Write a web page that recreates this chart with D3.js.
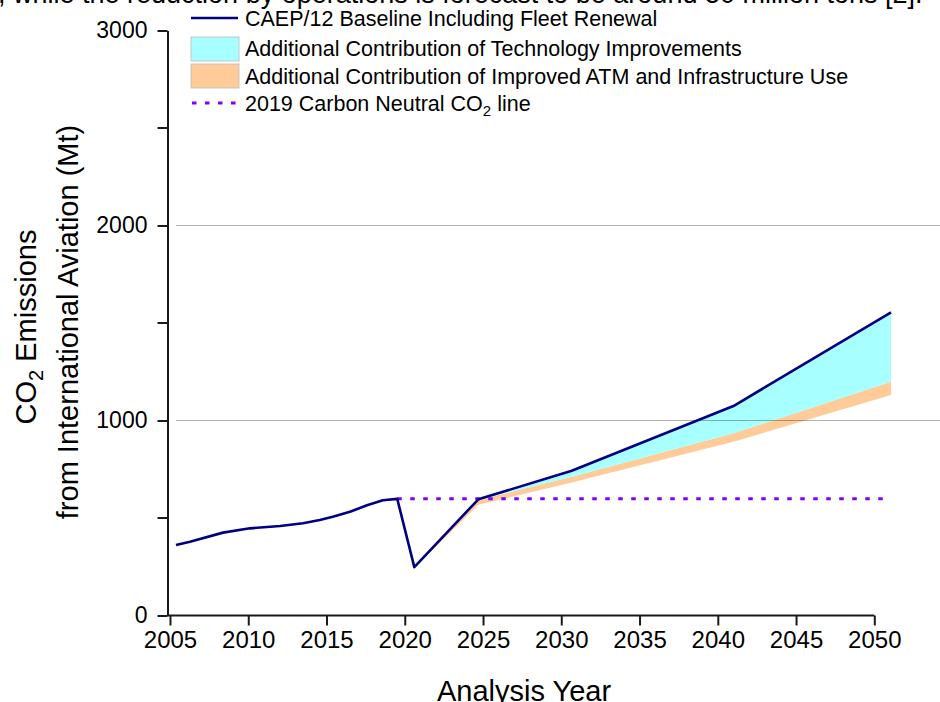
<!DOCTYPE html>
<html>
<head>
<meta charset="utf-8">
<script src="https://cdn.jsdelivr.net/npm/d3@7"></script>
<style>
  html, body { margin: 0; padding: 0; background: #fff; }
  svg { display: block; font-family: "Liberation Sans", Arial, sans-serif; }
</style>
</head>
<body>
<svg id="chart" width="940" height="702"></svg>
<script>
// historical baseline (plotted at mid-year positions as in the source figure)
const histYears  = [2005.38, 2006.28, 2008.39, 2010.11, 2012.03, 2013.5, 2014.57, 2015.4, 2016.5, 2017.59, 2018.6, 2019.52, 2020.61];
const histValues = [361, 378, 425, 447, 459, 473, 490, 507, 532, 565, 591, 598, 248];

// forecast period
const fcYears     = [2020.61, 2024.7, 2030.67, 2041.0, 2051.07];
const fcBaseline  = [248, 596, 742, 1074, 1555];
const fcTech      = [248, 592, 712, 934, 1199];
const fcAtm       = [244, 568, 682, 891, 1131];

// 2019 carbon neutral line
const neutralYears  = [2019.52, 2050.75];
const neutralValues = [599, 599];

const xTicks = [2005, 2010, 2015, 2020, 2025, 2030, 2035, 2040, 2045, 2050];
const yMajor = [0, 1000, 2000, 3000];
const yMinor = [500, 1500, 2500];
const gridValues = [1000, 2000];

const legendItems = [
    { type: 'line', label: 'CAEP/12 Baseline Including Fleet Renewal' },
    { type: 'tech', label: 'Additional Contribution of Technology Improvements' },
    { type: 'atm',  label: 'Additional Contribution of Improved ATM and Infrastructure Use' },
    { type: 'dash', label: '2019 Carbon Neutral CO', sub: '2', tail: ' line' }
];

const colors = {
    line: '#000080',
    tech: '#a8ffff',
    atm: '#ffcb98',
    dash: '#8000ff'
};

const svg = d3.select('#chart');

const x = d3.scaleLinear().domain([2005, 2050]).range([170, 874.3]);
const y = d3.scaleLinear().domain([0, 3000]).range([615.5, 30.5]);

// page text above the figure (cut off by the crop)
svg.append('text')
    .attr('x', -2)
    .attr('y', 3)
    .attr('font-size', 27)
    .text(', while the reduction by operations is forecast to be around 50 million tons [2].');

// Build series
const baseline = histYears.map((yr, i) => ({ x: yr, y: histValues[i] }))
    .concat(fcYears.slice(1).map((yr, i) => ({ x: yr, y: fcBaseline[i + 1] })));
const forecast = fcYears.map((yr, i) => ({ x: yr, base: fcBaseline[i], tech: fcTech[i], atm: fcAtm[i] }));

// Areas
const techArea = d3.area()
    .x(d => x(d.x))
    .y0(d => y(d.tech))
    .y1(d => y(d.base));

const atmArea = d3.area()
    .x(d => x(d.x))
    .y0(d => y(d.atm))
    .y1(d => y(d.tech));

svg.append('path')
    .datum(forecast)
    .attr('d', atmArea)
    .attr('fill', colors.atm);

svg.append('path')
    .datum(forecast)
    .attr('d', techArea)
    .attr('fill', colors.tech);

// Gridlines (drawn on top of the fills, semi-transparent)
svg.append('g')
    .selectAll('line')
    .data(gridValues)
    .join('line')
    .attr('x1', 176)
    .attr('x2', 940)
    .attr('y1', d => y(d))
    .attr('y2', d => y(d))
    .attr('stroke', '#000')
    .attr('stroke-opacity', 0.3)
    .attr('stroke-width', 1);

// Carbon neutral line
const neutral = neutralYears.map((yr, i) => ({ x: yr, y: neutralValues[i] }));
const line = d3.line().x(d => x(d.x)).y(d => y(d.y));

svg.append('path')
    .datum(neutral)
    .attr('d', line)
    .attr('fill', 'none')
    .attr('stroke', colors.dash)
    .attr('stroke-width', 3)
    .attr('stroke-dasharray', '4.5 8.5');

// Baseline
svg.append('path')
    .datum(baseline)
    .attr('d', line)
    .attr('fill', 'none')
    .attr('stroke', colors.line)
    .attr('stroke-width', 2.6)
    .attr('stroke-linejoin', 'round');

// Axes
const axisColor = '#1a1a1a';

const xAxis = svg.append('g')
    .attr('transform', `translate(0,${y(0)})`)
    .call(d3.axisBottom(x).tickValues(xTicks).tickFormat(d3.format('d')).tickSize(10).tickSizeOuter(0).tickPadding(5));
xAxis.select('.domain').remove();
xAxis.append('line')
    .attr('x1', 167.5).attr('x2', x(2050))
    .attr('stroke', axisColor).attr('stroke-width', 2);
xAxis.selectAll('.tick line').attr('stroke', axisColor).attr('stroke-width', 2);
xAxis.selectAll('.tick text')
    .attr('font-size', 24)
    .attr('fill', '#000')
    .attr('font-family', '"Liberation Sans", Arial, sans-serif');

const yAxis = svg.append('g')
    .attr('transform', 'translate(167.5,0)')
    .call(d3.axisLeft(y).tickValues(yMajor).tickFormat(d3.format('d')).tickSize(10).tickSizeOuter(0).tickPadding(10));
yAxis.select('.domain').attr('stroke', axisColor).attr('stroke-width', 2);
yAxis.selectAll('.tick line').attr('stroke', axisColor).attr('stroke-width', 2);
yAxis.selectAll('.tick text')
    .attr('font-size', 23)
    .attr('fill', '#000')
    .attr('font-family', '"Liberation Sans", Arial, sans-serif');

yAxis.append('g')
    .selectAll('line')
    .data(yMinor)
    .join('line')
    .attr('x1', -10).attr('x2', 0)
    .attr('y1', d => y(d)).attr('y2', d => y(d))
    .attr('stroke', axisColor).attr('stroke-width', 2);

// Axis titles
svg.append('text')
    .attr('x', 524)
    .attr('y', 701)
    .attr('text-anchor', 'middle')
    .attr('font-size', 29)
    .text('Analysis Year');

const yTitle1 = svg.append('text')
    .attr('transform', 'translate(36,327) rotate(-90)')
    .attr('text-anchor', 'middle')
    .attr('font-size', 29);
yTitle1.append('tspan').text('CO');
yTitle1.append('tspan').attr('font-size', 20).attr('dy', 7).text('2');
yTitle1.append('tspan').attr('dy', -7).text(' Emissions');

svg.append('text')
    .attr('transform', 'translate(78,322) rotate(-90)')
    .attr('text-anchor', 'middle')
    .attr('font-size', 29)
    .text('from International Aviation (Mt)');

// Legend
const legendRows = [18, 49, 76, 103];
const legendBase = [26, 56, 83.5, 110.5];
const legend = svg.append('g').attr('font-size', 21.5);

legendItems.forEach((item, i) => {
    const cy = legendRows[i];
    if (item.type === 'line') {
        legend.append('line')
            .attr('x1', 191).attr('x2', 238)
            .attr('y1', cy).attr('y2', cy)
            .attr('stroke', colors.line).attr('stroke-width', 2.6);
    } else if (item.type === 'dash') {
        legend.append('line')
            .attr('x1', 192).attr('x2', 238)
            .attr('y1', cy).attr('y2', cy)
            .attr('stroke', colors.dash).attr('stroke-width', 3)
            .attr('stroke-dasharray', '4.5 8.5');
    } else {
        legend.append('rect')
            .attr('x', 191).attr('y', cy - 12)
            .attr('width', 48).attr('height', 24)
            .attr('fill', colors[item.type])
            .attr('stroke', '#bbb').attr('stroke-width', 0.8);
    }
    const t = legend.append('text')
        .attr('x', 245)
        .attr('y', legendBase[i]);
    t.append('tspan').text(item.label);
    if (item.sub) {
        t.append('tspan').attr('font-size', 15).attr('dy', 5).text(item.sub);
        t.append('tspan').attr('dy', -5).text(item.tail);
    }
});
</script>
</body>
</html>
